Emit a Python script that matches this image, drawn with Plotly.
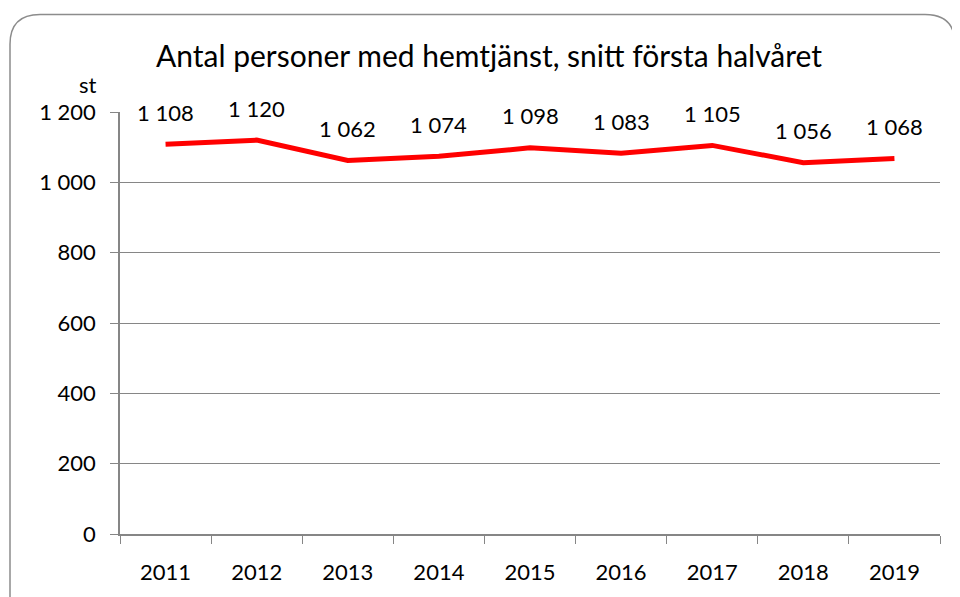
import plotly.graph_objects as go

years = ["2011", "2012", "2013", "2014", "2015", "2016", "2017", "2018", "2019"]
values = [1108, 1120, 1062, 1074, 1098, 1083, 1105, 1056, 1068]
y_ticks = [0, 200, 400, 600, 800, 1000, 1200]

FONT = "Lato"
OFF = 8  # default page body margin
W, H = 960 - OFF, 597 - OFF
L, R, T, B = 120 - OFF, 20, 112 - OFF, 61
pw, ph = W - L - R, H - T - B

def px(x):
    return (x - OFF - L) / pw

def py(y):
    return (H - B - (y - OFF)) / ph

def fmt(v):
    return f"{v:,}".replace(",", " ")

fig = go.Figure()
fig.add_trace(go.Scatter(x=years, y=values, mode="lines",
                         line=dict(color="#ff0000", width=5), hoverinfo="skip"))

for i, v in enumerate(values):
    fig.add_annotation(x=i, y=v, xref="x", yref="y", text=fmt(v), showarrow=False,
                       yshift=32, font=dict(family=FONT, size=22, color="#000"))

# rounded frame
x0, x1, y0, y1, r = 10, 955, 14, 640, 30
path = (f"M {px(x0)} {py(y0 + r)} Q {px(x0)} {py(y0)} {px(x0 + r)} {py(y0)} "
        f"L {px(x1 - r)} {py(y0)} Q {px(x1)} {py(y0)} {px(x1)} {py(y0 + r)} "
        f"L {px(x1)} {py(y1 - r)} Q {px(x1)} {py(y1)} {px(x1 - r)} {py(y1)} "
        f"L {px(x0 + r)} {py(y1)} Q {px(x0)} {py(y1)} {px(x0)} {py(y1 - r)} Z")
fig.add_shape(type="path", path=path, xref="paper", yref="paper",
              line=dict(color="#8c8c8c", width=1.5), layer="below")

fig.add_annotation(text="Antal personer med hemtjänst, snitt första halvåret",
                   xref="paper", yref="paper", x=px(489), y=py(55), showarrow=False,
                   xanchor="center", yanchor="middle",
                   font=dict(family=FONT, size=30, color="#000"))
fig.add_annotation(text="st", xref="paper", yref="paper", x=px(88), y=py(84),
                   showarrow=False, xanchor="center", yanchor="middle",
                   font=dict(family=FONT, size=22, color="#000"))

fig.update_layout(
    width=W, height=H, margin=dict(l=L, r=R, t=T, b=B),
    paper_bgcolor="white", plot_bgcolor="white", showlegend=False,
    separators=", ",
    xaxis=dict(type="category", tickson="boundaries", ticks="outside", ticklen=8,
               tickcolor="#868686", showgrid=False, showline=True, linecolor="#868686",
               linewidth=1.5, tickfont=dict(family=FONT, size=22, color="#000"),
               ticklabelstandoff=18, range=[-0.5, 8.5]),
    yaxis=dict(range=[0, 1200], tickvals=y_ticks, tickformat=",", ticks="outside",
               ticklen=8, tickcolor="#868686", showgrid=True, gridcolor="#868686",
               gridwidth=1, showline=True, linecolor="#868686", linewidth=1.5,
               zeroline=False, tickfont=dict(family=FONT, size=22, color="#000"),
               ticklabelstandoff=10),
)

fig.write_html("out.html")
